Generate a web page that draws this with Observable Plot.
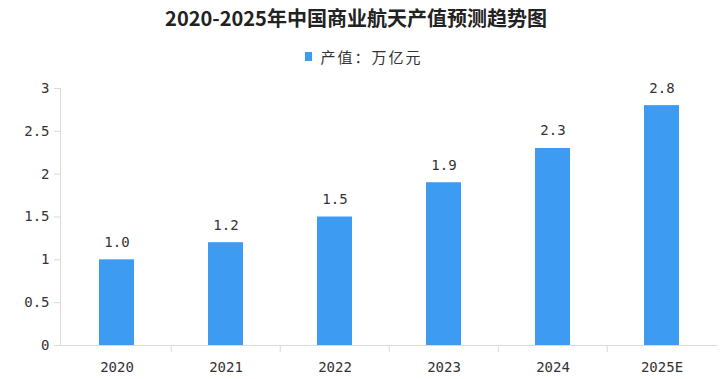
<!DOCTYPE html>
<html><head><meta charset="utf-8">
<script src="https://cdn.jsdelivr.net/npm/d3@7"></script>
<script src="https://cdn.jsdelivr.net/npm/@observablehq/plot@0.6"></script>
<style>
body{margin:0;background:#fff;width:728px;height:379px;overflow:hidden;font-family:"Noto Sans CJK SC",sans-serif;color:#333;}
#title{height:36px;line-height:36px;text-align:center;font-size:20px;font-weight:bold;color:#222;padding-right:16px;}
#legend{height:40px;display:flex;align-items:center;justify-content:center;font-size:15px;letter-spacing:2px;color:#333;}
#legend .sw{width:7px;height:9px;background:#3d9cf2;margin-right:8px;}
</style></head><body>
<div id="title">2020-2025年中国商业航天产值预测趋势图</div>
<div id="legend"><span class="sw"></span><span>产值：万亿元</span></div>
<div id="chart"></div>
<script>
const years = ["2020","2021","2022","2023","2024","2025E"];
const values = [1.0, 1.2, 1.5, 1.9, 2.3, 2.8];
const yTicks = [0, 0.5, 1, 1.5, 2, 2.5, 3];
const data = years.map((y,i)=>({year:y, value:values[i]}));

const W = 728, H = 303, ML = 60, MR = 11;
const half = (W - ML - MR) / years.length / 2;

const chart = Plot.plot({
  width: W, height: H,
  marginLeft: ML, marginRight: MR, marginTop: 12, marginBottom: 34,
  style: {fontFamily: "'DejaVu Sans Mono', monospace", fontSize: "13px", color: "#333", background: "#fff"},
  x: {domain: years, padding: 0, label: null},
  y: {domain: [0, 3], label: null},
  marks: [
    Plot.barY(data, {x: "year", y: "value", fill: "#3d9cf2", insetLeft: 37, insetRight: 37}),
    Plot.text(data, {x: "year", y: "value", text: d => d3.format(".1f")(d.value), lineAnchor: "bottom", dy: -13, fill: "#333", fontSize: 14}),
    Plot.frame({anchor: "left", stroke: "#d9d9d9"}),
    Plot.ruleY([0], {stroke: "#d9d9d9"}),
    Plot.ruleX(years.slice(1), {x: d => d, dx: -half, y1: 0, y2: 0, insetBottom: -7, stroke: "#d9d9d9"}),
    Plot.axisY({ticks: yTicks, tickSize: 6, tickPadding: 5, stroke: "#d9d9d9", fill: "#333", fontSize: 14, tickFormat: d => String(d)}),
    Plot.axisX({tickSize: 0, tickPadding: 17, fill: "#333", fontSize: 14})
  ]
});
document.getElementById("chart").appendChild(chart);
</script>
</body></html>
